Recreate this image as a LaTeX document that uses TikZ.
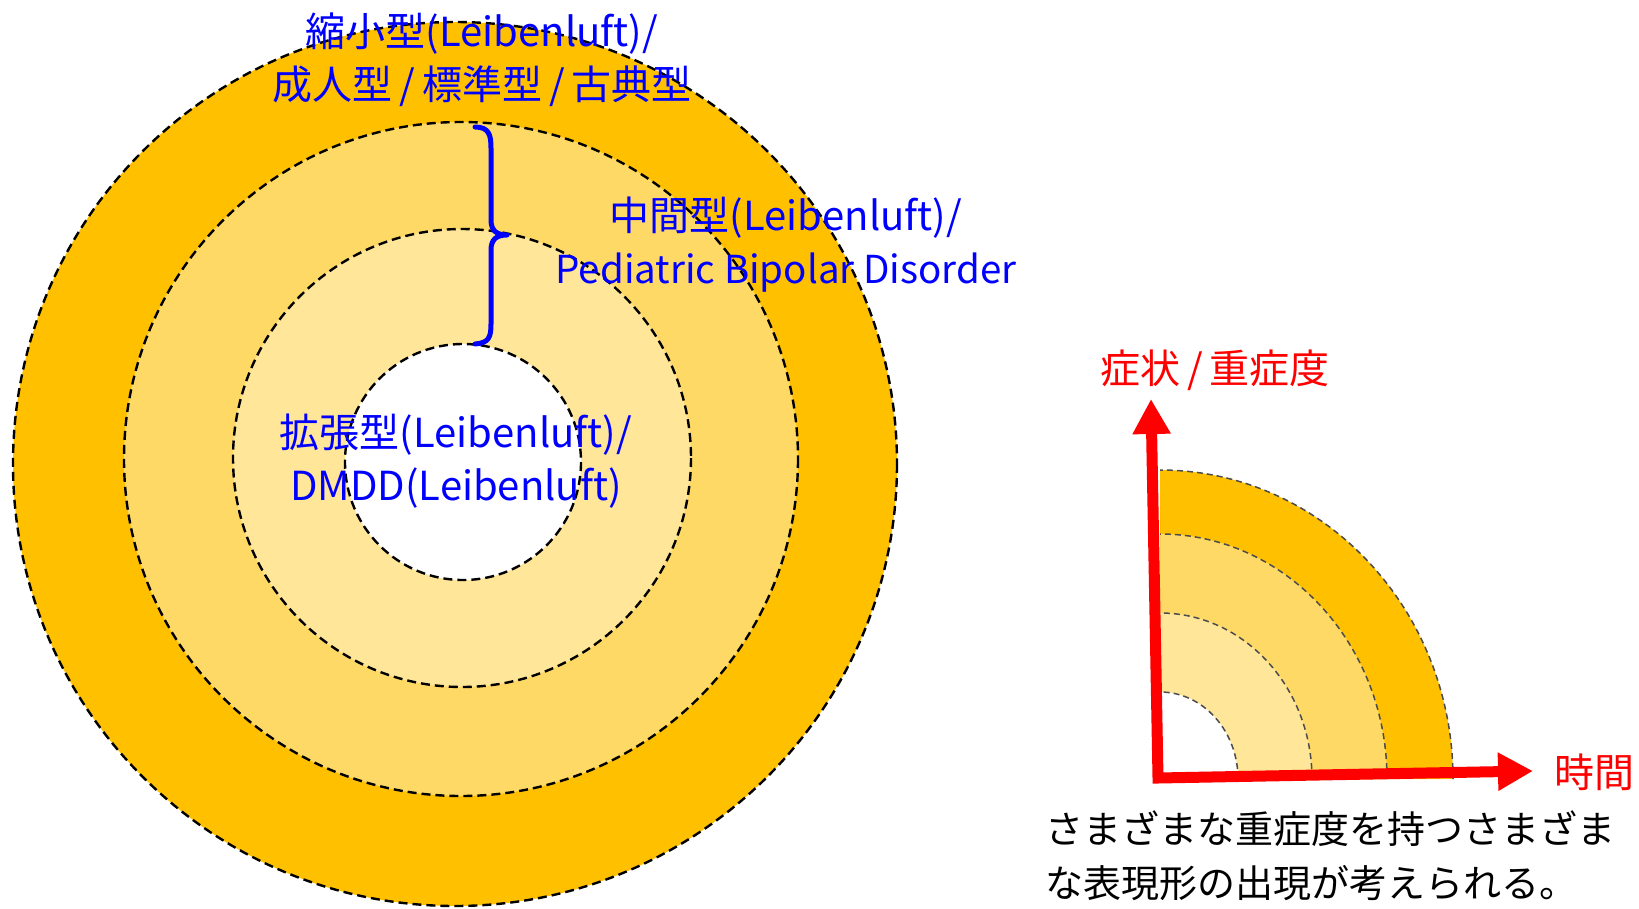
\documentclass[tikz,border=0pt]{standalone}
\usepackage{fontspec}
\setmainfont{Noto Sans CJK JP}
\usetikzlibrary{arrows.meta}
\definecolor{goldA}{HTML}{FFC000}
\definecolor{goldB}{HTML}{FFD966}
\definecolor{goldC}{HTML}{FFE699}
\newcommand{\wsl}{\hspace{7pt}/\hspace{7pt}}
\tikzset{
  ringline/.style={draw=black, line width=2.4pt, dash pattern=on 9pt off 5pt},
  qring/.style={draw=black!70, line width=1.5pt, dash pattern=on 6pt off 4pt},
  bluetxt/.style={text=blue, font=\fontsize{40}{53}\selectfont, align=center, inner sep=0pt},
  redtxt/.style={text=red, font=\fontsize{40}{48}\selectfont, inner sep=0pt},
  blacktxt/.style={text=black, font=\fontsize{38}{49}\selectfont, align=left, inner sep=0pt},
  bracestyle/.style={draw=blue, line width=5pt, line cap=round, line join=round},
  axisstyle/.style={draw=red, line width=11pt, line join=miter,
     {Triangle[length=35pt,width=36pt]}-{Triangle[length=35pt,width=36pt]}}
}
\begin{document}
\begin{tikzpicture}[x=1pt,y=-1pt]
\useasboundingbox (0,0) rectangle (1639,908);
% concentric rings
\fill[goldA] (455,464) circle[radius=442];
\draw[ringline] (455,464) circle[radius=442];
\fill[goldB] (461,459) circle[radius=337];
\draw[ringline] (461,459) circle[radius=337];
\fill[goldC] (462,458) circle[radius=229];
\draw[ringline] (462,458) circle[radius=229];
\fill[white] (463,462) circle[radius=118];
\draw[ringline] (463,462) circle[radius=118];
% brace
\draw[bracestyle] (475,127) .. controls (489,127) and (491,135) .. (491,148)
  -- (491,220) .. controls (491,231) and (497,235) .. (507,235)
  .. controls (497,235) and (491,239) .. (491,250)
  -- (491,324) .. controls (491,337) and (489,343) .. (475,344);
% labels
\node[bluetxt] (outerlbl) at (482,60) {縮小型(Leibenluft)/\\成人型\wsl 標準型\wsl 古典型};
\node[bluetxt] (midlbl) at (786,245) {中間型(Leibenluft)/\\{\fontsize{38.5}{53}\selectfont Pediatric Bipolar Disorder}};
\node[bluetxt] (innerlbl) at (456,461) {拡張型(Leibenluft)/\\DMDD(Leibenluft)};
% quarter rings
\coordinate (qc) at (1160,779);
\fill[goldA] (qc) -- ++(293,0) arc[start angle=0,end angle=-90,x radius=293,y radius=309] -- cycle;
\draw[qring] (1453,779) arc[start angle=0,end angle=-90,x radius=293,y radius=309];
\fill[goldB] (qc) -- ++(227,0) arc[start angle=0,end angle=-90,x radius=227,y radius=245] -- cycle;
\draw[qring] (1387,779) arc[start angle=0,end angle=-90,x radius=227,y radius=245];
\fill[goldC] (qc) -- ++(152,0) arc[start angle=0,end angle=-90,x radius=152,y radius=166] -- cycle;
\draw[qring] (1312,779) arc[start angle=0,end angle=-90,x radius=152,y radius=166];
\fill[white] (qc) -- ++(78,0) arc[start angle=0,end angle=-90,x radius=78,y radius=87] -- cycle;
\draw[qring] (1238,779) arc[start angle=0,end angle=-90,x radius=78,y radius=87];
% axes
\coordinate (ytip) at (1151,399);
\coordinate (corner) at (1158,778);
\coordinate (xtip) at (1533,771);
\draw[axisstyle] (ytip) -- (corner) -- (xtip);
\node[redtxt] (ylbl) at (1215,370) {症状\wsl 重症度};
\node[redtxt] (xlbl) at (1594,772) {時間};
\node[blacktxt, anchor=west] (note) at (1045,856) {さまざまな重症度を持つさまざま\\[5pt]な表現形の出現が考えられる。};
\end{tikzpicture}
\end{document}
